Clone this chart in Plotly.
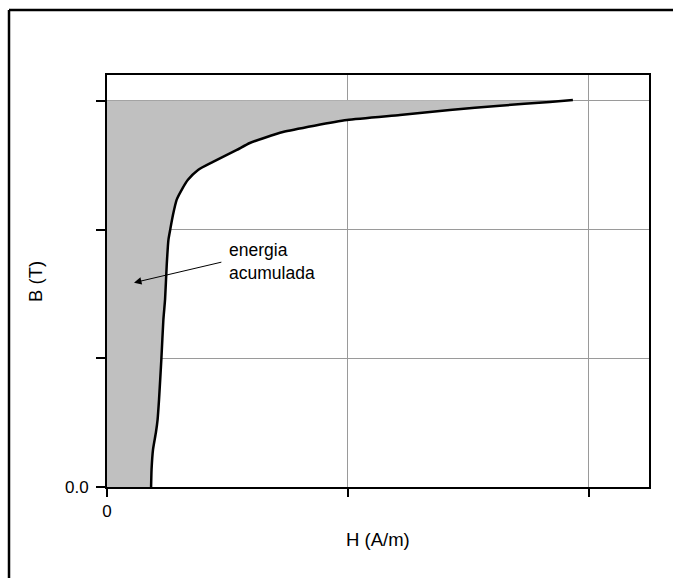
import plotly.graph_objects as go

# Curve B-H
H_vals = [0.183, 0.185, 0.191, 0.203, 0.210, 0.216, 0.226, 0.234, 0.241, 0.248, 0.255, 0.263,
          0.274, 0.289, 0.310, 0.336, 0.378, 0.440, 0.539, 0.593, 0.730, 0.996, 1.216,
          1.423, 1.631, 1.838, 1.934]
B_vals = [0.000, 0.136, 0.291, 0.423, 0.524, 0.679, 1.004, 1.299, 1.455, 1.726, 1.920, 2.005,
          2.114, 2.230, 2.308, 2.386, 2.463, 2.525, 2.618, 2.672, 2.757, 2.850, 2.889,
          2.928, 2.962, 2.990, 3.005]

x_tickvals = [0, 1, 2]
x_ticktext = ["0", "", ""]
y_tickvals = [0, 1, 2, 3]
y_ticktext = ["0.0", "", "", ""]

B_top = 3.0
fill_x = [0] + H_vals + [0]
fill_y = [0] + B_vals[:-1] + [B_top, B_top]

fig = go.Figure()
fig.add_trace(go.Scatter(x=fill_x, y=fill_y, fill="toself", fillcolor="#c0c0c0",
                         mode="lines", line=dict(width=0, color="#c0c0c0", shape="spline", smoothing=0.5),
                         hoverinfo="skip", showlegend=False))
fig.add_trace(go.Scatter(x=H_vals, y=B_vals, mode="lines",
                         line=dict(color="black", width=2.5, shape="spline", smoothing=0.5),
                         showlegend=False))

font = "Liberation Sans, Arial, sans-serif"

fig.update_layout(
    width=673, height=578,
    margin=dict(l=107, r=24, t=75, b=91),
    paper_bgcolor="white", plot_bgcolor="white",
    font=dict(family=font, size=17, color="black"),
    xaxis=dict(range=[0, 2.25], tickvals=x_tickvals, ticktext=x_ticktext,
               showgrid=True, gridcolor="#9a9a9a", gridwidth=1, zeroline=False,
               showline=True, linecolor="black", linewidth=2, mirror=True,
               ticks="outside", ticklen=8, tickwidth=2, tickcolor="black",
               tickfont=dict(size=17)),
    yaxis=dict(range=[0, 3.2], tickvals=y_tickvals, ticktext=y_ticktext,
               showgrid=True, gridcolor="#9a9a9a", gridwidth=1, zeroline=False,
               showline=True, linecolor="black", linewidth=2, mirror=True,
               ticks="outside", ticklen=9, tickwidth=1.5, tickcolor="black",
               tickfont=dict(size=17), ticklabelstandoff=4),
    shapes=[
        dict(type="line", xref="paper", yref="paper", x0=-0.1808, x1=1.06,
             y0=1.1578, y1=1.1578, line=dict(color="black", width=2.5)),
        dict(type="line", xref="paper", yref="paper", x0=-0.1808, x1=-0.1808,
             y0=1.1578, y1=-0.25, line=dict(color="black", width=2.5)),
    ],
    annotations=[
        dict(text="energia<br>acumulada", x=0.497, y=1.749, xref="x", yref="y",
             xanchor="left", yanchor="middle", align="left", showarrow=False,
             font=dict(size=17.5)),
        dict(text="", x=0.112, y=1.587, ax=0.481, ay=1.749, xref="x", yref="y",
             axref="x", ayref="y", showarrow=True, arrowhead=2, arrowsize=1.5,
             arrowwidth=1, arrowcolor="black"),
        dict(text="H (A/m)", x=0.5, y=-0.127, xref="paper", yref="paper",
             xanchor="center", yanchor="middle", showarrow=False, font=dict(size=18.5)),
        dict(text="B (T)", x=-0.133, y=0.5, xref="paper", yref="paper", textangle=-90,
             xanchor="center", yanchor="middle", showarrow=False, font=dict(size=18.5)),
    ],
)

fig.write_html("out.html")
